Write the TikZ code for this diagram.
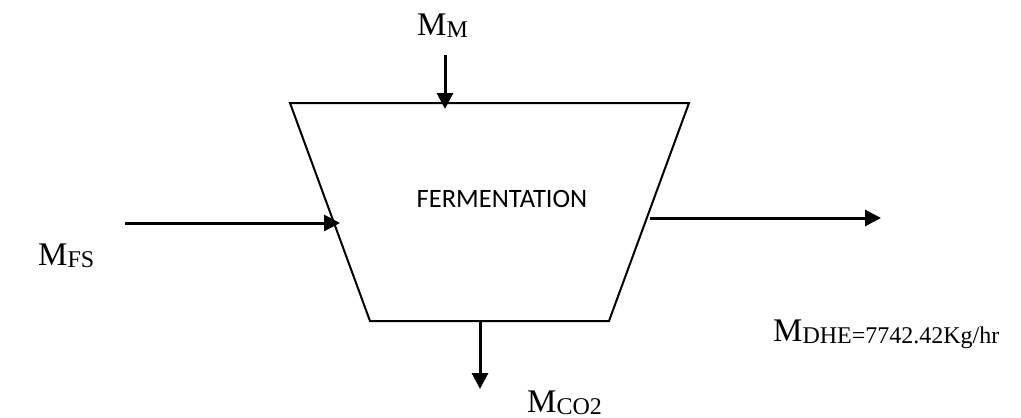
\documentclass[tikz,border=0pt]{standalone}
\usepackage{fontspec}
\setmainfont{Liberation Serif}
\newfontfamily\calib{Carlito}
\usetikzlibrary{arrows.meta}
\newcommand\mlabel[2]{\fontsize{33}{33}\selectfont M\raisebox{-2pt}{\fontsize{24}{24}\selectfont #2}}
\tikzset{
  flow/.style={line width=3pt, -{Triangle[length=16pt,width=16pt]}},
  vessel/.style={line width=2pt, line join=miter},
  lbl/.style={anchor=base west, inner sep=0pt}
}
\begin{document}
\begin{tikzpicture}[x=1pt,y=-1pt]
\useasboundingbox (0,0) rectangle (1021,418);
% vessel
\coordinate (tl) at (290,103);
\coordinate (tr) at (689,103);
\coordinate (br) at (609,321);
\coordinate (bl) at (370,321);
\draw[vessel] (tl) -- (tr) -- (br) -- (bl) -- cycle;
\node (ferm) at (502,199) {\calib\fontsize{26.5}{26.5}\selectfont FERMENTATION};
% stream ends
\coordinate (mmS) at (445,55);
\coordinate (mmE) at (445,109);
\coordinate (fsS) at (125,223);
\coordinate (fsE) at (340,223);
\coordinate (dhS) at (650,218);
\coordinate (dhE) at (881,218);
\coordinate (coS) at (480,322);
\coordinate (coE) at (480,389);
\draw[flow] (mmS) -- (mmE);
\draw[flow] (fsS) -- (fsE);
\draw[flow] (dhS) -- (dhE);
\draw[flow] (coS) -- (coE);
% labels
\node[lbl] (lmm) at (417,35) {\mlabel{M}{M}};
\node[lbl] (lfs) at (38,265) {\mlabel{M}{FS}};
\node[lbl] (lco) at (527,412) {\mlabel{M}{CO2}};
\node[lbl] (ldh) at (773,341) {\mlabel{M}{DHE=7742.42Kg/hr}};
\end{tikzpicture}
\end{document}
